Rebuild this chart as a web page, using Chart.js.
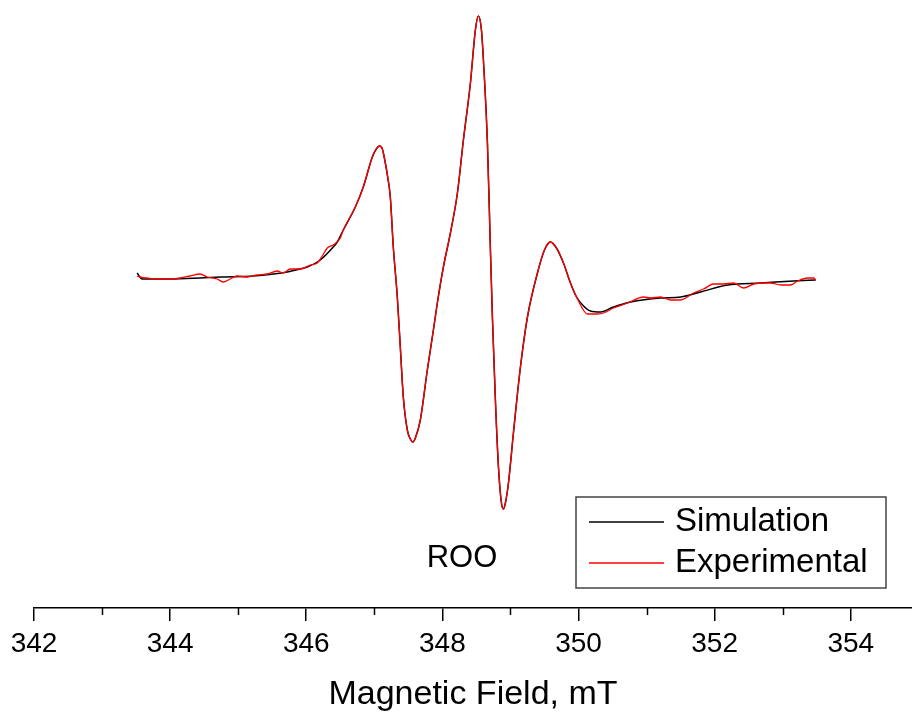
<!DOCTYPE html>
<html>
<head>
<meta charset="utf-8">
<script src="https://cdn.jsdelivr.net/npm/chart.js@4/dist/chart.umd.min.js"></script>
<style>
  html, body { margin: 0; padding: 0; background: #fff; }
  canvas { display: block; }
</style>
</head>
<body>
<canvas id="epr" width="912" height="712"></canvas>
<script>
// Magnetic field (mT) and signal (arb. units, baseline = 0)
const simField = [343.515, 343.588, 343.779, 344.0, 344.441, 344.735, 345.221, 345.721, 345.912, 346.015,
    346.206, 346.397, 346.456, 346.544, 346.721, 346.838, 346.971, 347.029, 347.074, 347.118,
    347.162, 347.199, 347.235, 347.279, 347.338, 347.382, 347.426, 347.485, 347.529, 347.566, 347.603,
    347.676, 347.779, 347.868, 347.926, 348.015, 348.118, 348.221, 348.309, 348.412, 348.485,
    348.529, 348.574, 348.603, 348.662, 348.706, 348.735, 348.779, 348.824, 348.868, 348.897,
    348.926, 348.971, 349.044, 349.147, 349.25, 349.397, 349.5, 349.588, 349.676, 349.779,
    349.882, 349.971, 350.074, 350.176, 350.324, 350.515, 350.765, 351.206, 351.5, 351.794,
    352.191, 352.676, 353.162, 353.485];
const simSignal = [4, -2, -2, -2, -1, 0, 1, 5, 8, 10,
    17, 30, 35, 47, 70, 90, 120, 128, 131, 128,
    114, 99, 80, 30, -20, -70, -120, -153, -162, -165, -161,
    -143, -93, -53, -26, 10, 44, 84, 137, 194, 247,
    261, 247, 217, 134, 27, -40, -123, -190, -226, -232,
    -226, -206, -156, -90, -40, 4, 27, 35, 29, 14,
    -6, -20, -29, -34, -35, -30, -25, -21, -20, -15,
    -8, -6, -4, -3];

const expField = [343.515, 343.559, 343.662, 343.809, 344.0, 344.147, 344.294, 344.441, 344.544, 344.691,
    344.779, 344.882, 344.985, 345.132, 345.279, 345.426, 345.574, 345.662, 345.765, 345.912,
    346.059, 346.162, 346.235, 346.309, 346.397, 346.5,
    346.544, 346.721, 346.838, 346.971, 347.029, 347.074, 347.118, 347.162, 347.199, 347.235, 347.279,
    347.338, 347.382, 347.426, 347.485, 347.529, 347.566, 347.603, 347.676, 347.779, 347.868,
    347.926, 348.015, 348.118, 348.221, 348.309, 348.412, 348.485, 348.529, 348.574, 348.603,
    348.662, 348.706, 348.735, 348.779, 348.824, 348.868, 348.897, 348.926, 348.971, 349.044,
    349.147, 349.25, 349.397, 349.5, 349.588, 349.676, 349.779, 349.882, 349.971,
    350.132, 350.279, 350.368, 350.515, 350.721, 350.956, 351.059, 351.206, 351.353, 351.5,
    351.691, 351.838, 351.985, 352.132, 352.279, 352.426, 352.574, 352.721, 352.824, 352.971,
    353.118, 353.221, 353.368, 353.456, 353.485];
const expSignal = [1, 0, -1, -2, -2, -1, 1, 3, 0, -2,
    -5, -2, 1, 0, 2, 3, 6, 4, 8, 8,
    12, 14, 21, 29, 32, 39,
    47, 70, 90, 120, 128, 131, 128, 114, 99, 80, 30,
    -20, -70, -120, -153, -162, -165, -161, -143, -93, -53,
    -26, 10, 44, 84, 137, 194, 247, 261, 247, 217,
    134, 27, -40, -123, -190, -226, -232, -226, -206, -156,
    -90, -40, 4, 27, 35, 29, 14, -6, -20,
    -37, -37, -36, -31, -26, -20, -21, -20, -23, -23,
    -16, -12, -7, -7, -6, -11, -7, -6, -6, -8,
    -8, -4, -1, -1, -3];

const seriesLabels = ['Simulation', 'Experimental'];
const seriesColors = ['#000000', '#ff0000'];
const sampleName = 'ROO';

const FONT = '"Liberation Sans", Arial, sans-serif';

const toPoints = (xs, ys) => xs.map((x, i) => ({ x, y: ys[i] }));

// short ticks at the odd field values
const minorTicks = {
    id: 'minorTicks',
    afterDraw(chart) {
        const scale = chart.scales.x;
        const ctx = chart.ctx;
        ctx.save();
        ctx.strokeStyle = '#000';
        ctx.lineWidth = 1.5;
        scale.ticks.forEach(t => {
            if (Math.round(t.value) % 2 === 0) return;
            const px = Math.round(scale.getPixelForValue(t.value)) + 0.5;
            ctx.beginPath();
            ctx.moveTo(px, scale.top);
            ctx.lineTo(px, scale.top + 7);
            ctx.stroke();
        });
        ctx.restore();
    }
};

// boxed legend and sample label
const boxLegend = {
    id: 'boxLegend',
    afterDraw(chart) {
        const ctx = chart.ctx;
        ctx.save();
        ctx.strokeStyle = '#444';
        ctx.lineWidth = 1.5;
        ctx.strokeRect(576, 497, 310, 91);

        ctx.font = '33px ' + FONT;
        ctx.textBaseline = 'middle';
        ctx.textAlign = 'left';
        const rows = [522, 563];
        chart.data.datasets.forEach((ds, i) => {
            ctx.strokeStyle = ds.borderColor;
            ctx.lineWidth = 1.3;
            ctx.beginPath();
            ctx.moveTo(589, rows[i]);
            ctx.lineTo(664, rows[i]);
            ctx.stroke();
            ctx.fillStyle = '#000';
            ctx.fillText(ds.label, 675, rows[i]);
        });

        ctx.font = '31px ' + FONT;
        ctx.textAlign = 'center';
        ctx.fillText(sampleName, 462, 558);
        ctx.restore();
    }
};

new Chart(document.getElementById('epr'), {
    type: 'line',
    data: {
        datasets: [
            {
                label: seriesLabels[0],
                data: toPoints(simField, simSignal),
                borderColor: seriesColors[0],
                borderWidth: 1.5,
                pointRadius: 0,
                cubicInterpolationMode: 'monotone',
                order: 2
            },
            {
                label: seriesLabels[1],
                data: toPoints(expField, expSignal),
                borderColor: seriesColors[1],
                borderWidth: 1.3,
                pointRadius: 0,
                cubicInterpolationMode: 'monotone',
                order: 1
            }
        ]
    },
    options: {
        responsive: false,
        animation: false,
        events: [],
        layout: { padding: { left: 34, right: 0, top: 0, bottom: 0 } },
        plugins: {
            legend: { display: false },
            tooltip: { enabled: false }
        },
        scales: {
            x: {
                type: 'linear',
                min: 342,
                max: 354.9,
                afterFit: s => { s.height = 104; },
                border: { display: true, color: '#000', width: 1.5 },
                grid: {
                    display: true,
                    drawOnChartArea: false,
                    drawTicks: true,
                    tickLength: 13,
                    lineWidth: 1.5,
                    tickColor: c => (c.tick && Math.round(c.tick.value) % 2 === 0) ? '#000' : 'rgba(0,0,0,0)'
                },
                ticks: {
                    stepSize: 1,
                    includeBounds: false,
                    autoSkip: false,
                    maxRotation: 0,
                    padding: 6,
                    color: '#000',
                    font: { family: FONT, size: 28 },
                    callback: v => Math.round(v) % 2 === 0 ? String(v) : ''
                },
                title: {
                    display: true,
                    text: 'Magnetic Field, mT',
                    color: '#000',
                    font: { family: FONT, size: 34, lineHeight: 1.0 },
                    padding: { top: 0, bottom: 0 }
                }
            },
            y: {
                display: false,
                min: -331,
                max: 277
            }
        }
    },
    plugins: [minorTicks, boxLegend]
});
</script>
</body>
</html>
